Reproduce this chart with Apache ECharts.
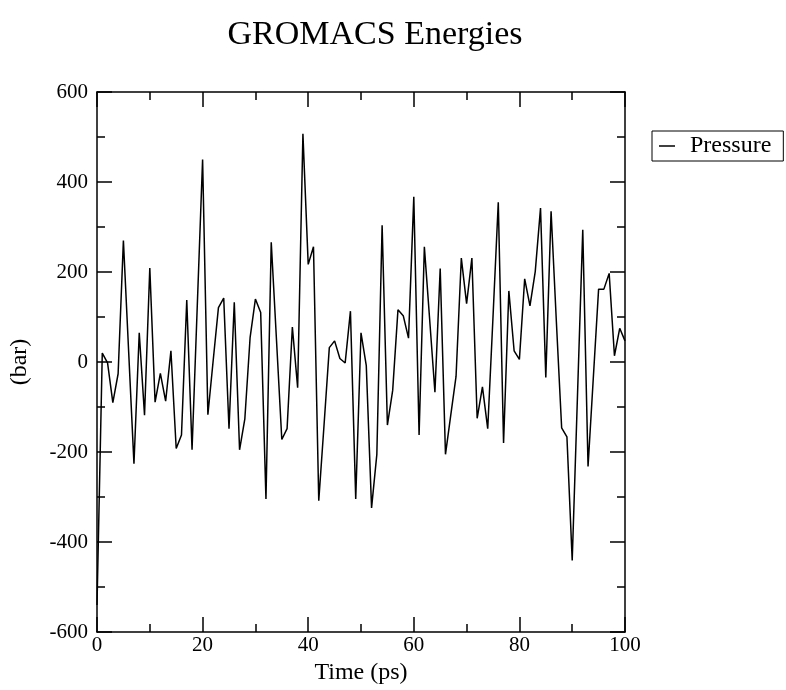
<!DOCTYPE html>
<html>
<head>
<meta charset="utf-8">
<script src="https://cdn.jsdelivr.net/npm/echarts@6/dist/echarts.min.js"></script>
<style>
html,body{margin:0;padding:0;background:#fff;}
#chart{width:786px;height:690px;}
</style>
</head>
<body>
<div id="chart"></div>
<script>
const times = [];
for (let i = 0; i <= 100; i++) times.push(i);
const pressure = [
  -540, 20, -2, -90, -26, 270, 22, -226, 65, -118,
  209, -89, -25, -87, 25, -192, -162, 138, -195, 128,
  450, -117, 3, 121, 142, -148, 133, -195, -126, 55,
  140, 110, -304, 266, 48, -172, -148, 78, -57, 507,
  217, 256, -308, -140, 32, 47, 8, -2, 113, -304,
  65, -8, -324, -205, 304, -140, -63, 116, 103, 53,
  367, -162, 256, 95, -67, 208, -205, -118, -32, 231,
  130, 231, -125, -55, -148, 100, 355, -180, 158, 25,
  6, 185, 125, 201, 342, -34, 335, 90, -146, -166,
  -441, -75, 294, -232, -35, 162, 162, 197, 14, 75,
  47
];
const seriesName = 'Pressure';
const titleText = 'GROMACS Energies';
const xName = 'Time (ps)';
const yName = '(bar)';

const font = '"Liberation Serif", "DejaVu Serif", serif';
const data = times.map((t, i) => [t, pressure[i]]);

const chart = echarts.init(document.getElementById('chart'), null, {renderer: 'canvas'});
const axisCommon = {
  axisLine: {show: true, onZero: false, lineStyle: {color: '#000', width: 1.5}},
  axisTick: {show: true, inside: true, length: 15, lineStyle: {color: '#000', width: 1.5}},
  minorTick: {show: true, splitNumber: 2, length: 8, lineStyle: {color: '#000', width: 1.5}},
  splitLine: {show: false}
};
chart.setOption({
  backgroundColor: '#fff',
  animation: false,
  title: {
    text: titleText,
    left: 370, textAlign: 'center', top: 13,
    textStyle: {fontFamily: font, fontSize: 34, fontWeight: 'normal', color: '#000'}
  },
  legend: {
    left: 652, top: 131,
    data: [seriesName],
    borderColor: '#000', borderWidth: 1, borderRadius: 0,
    padding: [3, 12, 3, 7],
    itemWidth: 16, itemHeight: 1.5, itemGap: 10,
    icon: 'rect',
    textStyle: {fontFamily: font, fontSize: 24, color: '#000', padding: [0, 0, 0, 10]}
  },
  grid: {left: 95, top: 92, right: 161, bottom: 49},
  xAxis: [
    Object.assign({
      type: 'value', min: 0, max: 100, interval: 20,
      name: xName, nameLocation: 'middle', nameGap: 19,
      nameTextStyle: {fontFamily: font, fontSize: 24, color: '#000'},
      axisLabel: {fontFamily: font, fontSize: 21, color: '#000', margin: 3}
    }, axisCommon),
    Object.assign({
      type: 'value', min: 0, max: 100, interval: 20, position: 'top',
      axisLabel: {show: false}
    }, axisCommon)
  ],
  yAxis: [
    Object.assign({
      type: 'value', min: -600, max: 600, interval: 200,
      name: yName, nameLocation: 'middle', nameGap: 65, nameRotate: 90,
      nameTextStyle: {fontFamily: font, fontSize: 24, color: '#000'},
      axisLabel: {fontFamily: font, fontSize: 21, color: '#000', margin: 9}
    }, axisCommon),
    Object.assign({
      type: 'value', min: -600, max: 600, interval: 200, position: 'right',
      axisLabel: {show: false}
    }, axisCommon)
  ],
  series: [{
    name: seriesName,
    type: 'line',
    data: data,
    showSymbol: false,
    symbol: 'none',
    lineStyle: {color: '#000', width: 1.5},
    itemStyle: {color: '#000'}
  }]
});
</script>
</body>
</html>
